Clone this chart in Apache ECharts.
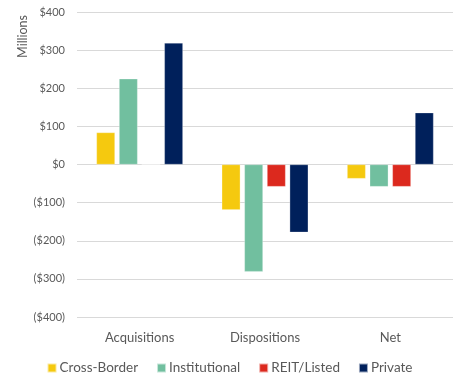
<!DOCTYPE html>
<html>
<head>
<meta charset="utf-8">
<script src="https://cdn.jsdelivr.net/npm/echarts@6/dist/echarts.min.js"></script>
<style>
  html, body { margin: 0; padding: 0; background: #fff; }
  #chart { width: 459px; height: 376px; }
</style>
</head>
<body>
<div id="chart"></div>
<script>
// Transaction volume by buyer/seller type, in millions of dollars
const categories = ['Acquisitions', 'Dispositions', 'Net'];
const crossBorder = [84, -119, -37];
const institutional = [225, -281, -58];
const reitListed = [0, -58, -58];
const privateBuyers = [319, -178, 136];
const yTicks = [-400, -300, -200, -100, 0, 100, 200, 300, 400];

const FONT = 'Lato, "Liberation Sans", sans-serif';

function money(v) {
  return v < 0 ? '($' + Math.abs(v) + ')' : '$' + v;
}

function bar(name, data, color) {
  return {
    name: name,
    type: 'bar',
    data: data,
    barGap: '22%',
    barCategoryGap: '31%',
    itemStyle: { color: color, borderColor: 'rgba(255,255,255,0.6)', borderWidth: 0.5 }
  };
}

const chart = echarts.init(document.getElementById('chart'));
chart.setOption({
  backgroundColor: '#ffffff',
  animation: false,
  textStyle: { fontFamily: FONT },
  grid: { left: 77, right: 6, top: 12, bottom: 59 },
  xAxis: {
    type: 'category',
    data: categories,
    axisLine: { show: false },
    axisTick: { show: false },
    axisLabel: { color: '#595959', fontSize: 13, margin: 14, fontFamily: FONT }
  },
  yAxis: {
    type: 'value',
    min: yTicks[0],
    max: yTicks[yTicks.length - 1],
    interval: 100,
    axisLine: { show: false },
    axisTick: { show: false },
    splitLine: { lineStyle: { color: '#d9d9d9', width: 1 } },
    axisLabel: { color: '#595959', fontSize: 11, margin: 12, fontFamily: FONT, formatter: money }
  },
  legend: {
    top: 356,
    left: 'center',
    itemWidth: 9,
    itemHeight: 9,
    itemGap: 18,
    icon: 'rect',
    textStyle: { color: '#595959', fontSize: 13.5, fontFamily: FONT, padding: [0, 0, 0, -2] }
  },
  graphic: [{
    type: 'text',
    left: 16,
    top: 15,
    rotation: Math.PI / 2,
    style: { text: 'Millions', fill: '#595959', font: '12.5px ' + FONT }
  }],
  series: [
    bar('Cross-Border', crossBorder, '#F5C90F'),
    bar('Institutional', institutional, '#71BF9F'),
    bar('REIT/Listed', reitListed, '#DC291E'),
    bar('Private', privateBuyers, '#00205B')
  ]
});
</script>
</body>
</html>
